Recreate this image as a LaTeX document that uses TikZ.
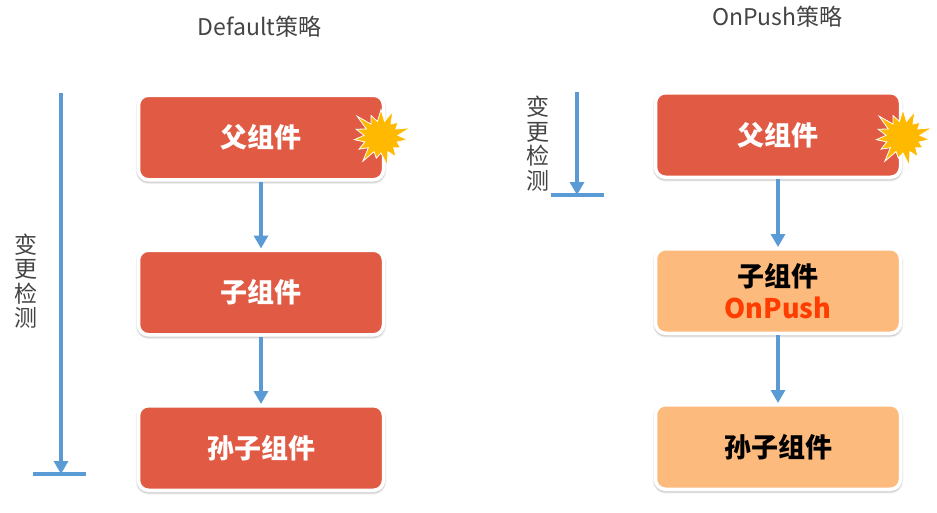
\documentclass[tikz,border=0pt]{standalone}
\usepackage{fontspec}
\setmainfont{Noto Sans CJK SC}
\usetikzlibrary{arrows.meta,shapes.symbols}
\definecolor{boxred}{HTML}{E05A44}
\definecolor{boxorange}{HTML}{FDBA7D}
\definecolor{flowblue}{HTML}{5B9BD5}
\definecolor{pushred}{HTML}{FF3D00}
\definecolor{burstyellow}{HTML}{FFB900}
\definecolor{labelgrey}{HTML}{444444}
\tikzset{
  comp/.style={rounded corners=10pt, draw=white, line width=3.5pt, minimum width=245pt, minimum height=84.5pt,
    align=center, font=\fontsize{27}{31}\selectfont\bfseries,
    preaction={draw=black!5, line width=5.5pt, transform canvas={yshift=-1.6pt}},
    preaction={draw=black!16, line width=3.5pt, transform canvas={yshift=-1.6pt}}},
  compred/.style={comp, fill=boxred, text=white},
  comporange/.style={comp, fill=boxorange, text=black},
  flow/.style={draw=flowblue, line width=4pt, -{Triangle[length=13pt,width=14pt]}},
  stopbar/.style={draw=flowblue, line width=4pt},
  burst/.style={starburst, starburst points=15, starburst point height=16pt, fill=burstyellow, draw=white, line width=.8pt, minimum width=66pt, minimum height=64pt, inner sep=0pt},
  title/.style={font=\fontsize{23}{27}\selectfont, text=labelgrey},
  vlabel/.style={font=\fontsize{23}{24.5}\selectfont, text=labelgrey, align=center, inner sep=0pt}
}
\begin{document}
\begin{tikzpicture}[x=1pt,y=-1pt]
\useasboundingbox (0,0) rectangle (937,512);
\node[title] (titleL) at (259.5,27){Default策略};
\node[title] (titleR) at (777.5,17){OnPush策略};
% left column
\node[compred] (parentL) at (261,137.5){父组件};
\node[compred] (childL) at (261,292.5){子组件};
\node[compred] (grandL) at (261,448){孙子组件};
\node[burst] (burstL) at (381,137){};
\draw[flow](parentL) -- (childL);
\draw[flow](childL) -- (grandL);
\coordinate (startL) at (61,93);
\coordinate (endL) at (61,474);
\coordinate (barLa) at (33,474);
\coordinate (barLb) at (86,474);
\draw[flow](startL) -- (endL);
\draw[stopbar](barLa) -- (barLb);
\node[vlabel] (checkL) at (26,281){变\\更\\检\\测};
% right column
\node[compred] (parentR) at (778,135){父组件};
\node[comporange] (childR) at (778,291){子组件\\[1pt]\textcolor{pushred}{OnPush}};
\node[comporange] (grandR) at (778,447){孙子组件};
\node[burst] (burstR) at (903,137){};
\draw[flow](parentR) -- (childR);
\draw[flow](childR) -- (grandR);
\coordinate (startR) at (577,92);
\coordinate (endR) at (577,195);
\coordinate (barRa) at (551,195);
\coordinate (barRb) at (604,195);
\draw[flow](startR) -- (endR);
\draw[stopbar](barRa) -- (barRb);
\node[vlabel] (checkR) at (538,143.5){变\\更\\检\\测};
\end{tikzpicture}
\end{document}
